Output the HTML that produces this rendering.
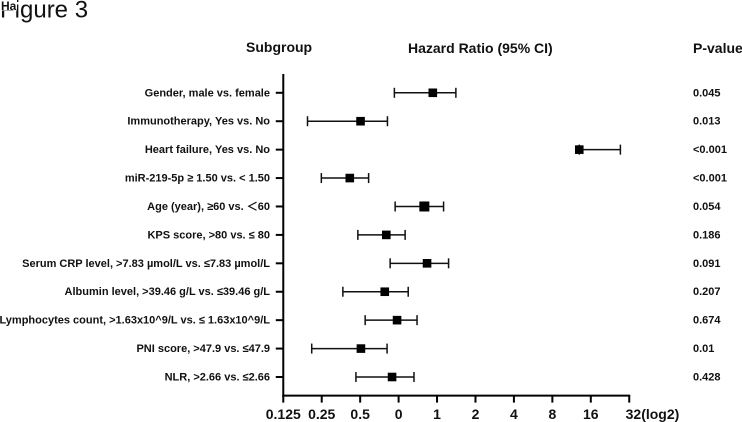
<!DOCTYPE html>
<html lang="en">
<head>
<meta charset="utf-8">
<title>Figure 3 forest plot</title>
<style>
  html, body { margin: 0; padding: 0; background: #fff; }
  #chart { display: block; width: 742px; height: 422px; font-family: "Liberation Sans", sans-serif; }
  #chart text { fill: #111; }
  .head { font-size: 14px; font-weight: bold; }
  .row-label { font-size: 11px; font-weight: bold; text-anchor: end; }
  .p-label { font-size: 11px; font-weight: bold; }
  .tick-label { font-size: 14px; font-weight: bold; text-anchor: middle; }
  .axis { stroke: #000; stroke-width: 2; fill: none; }
  .whisker { stroke: #111; stroke-width: 1.5; fill: none; }
</style>
</head>
<body>
<svg id="chart" xmlns="http://www.w3.org/2000/svg" width="742" height="422" viewBox="0 0 742 422">
  <rect x="0" y="0" width="742" height="422" fill="#fff"/>
  <text x="0" y="17.5" font-size="24">Figure 3</text>
  <rect x="0" y="0" width="17" height="10.5" fill="#fff"/>
  <text x="1" y="10" font-size="12" font-weight="bold">Ha</text>
  <text class="head" x="246" y="52">Subgroup</text>
  <text class="head" x="408" y="53">Hazard Ratio (95% CI)</text>
  <text class="head" x="693" y="53">P-value</text>
  <g id="y-axis-group"></g>
  <g id="x-axis-group"></g>
  <g id="rows-group"></g>
</svg>
<script>
// Values are in axis units: one unit per tick interval, with the tick labelled "0" at 0.
const categories = [
  "Gender, male vs. female",
  "Immunotherapy, Yes vs. No",
  "Heart failure, Yes vs. No",
  "miR-219-5p \u2265 1.50 vs. < 1.50",
  "Age (year), \u226560 vs. \uFF1C60",
  "KPS score, >80 vs. \u2264 80",
  "Serum CRP level, >7.83 \u00B5mol/L vs. \u22647.83 \u00B5mol/L",
  "Albumin level, >39.46 g/L vs. \u226439.46 g/L",
  "Lymphocytes count, >1.63x10^9/L vs. \u2264 1.63x10^9/L",
  "PNI score, >47.9 vs. \u226447.9",
  "NLR, >2.66 vs. \u22642.66"
];
const estimates = [0.89, -0.99, 4.70, -1.27, 0.67, -0.32, 0.74, -0.36, -0.04, -0.98, -0.17];
const lowerBounds = [-0.11, -2.37, 4.70, -2.01, -0.09, -1.06, -0.22, -1.45, -0.87, -2.26, -1.11];
const upperBounds = [1.49, -0.29, 5.77, -0.78, 1.17, 0.17, 1.30, 0.25, 0.48, -0.30, 0.40];
const pValues = ["0.045", "0.013", "<0.001", "<0.001", "0.054", "0.186", "0.091", "0.207", "0.674", "0.01", "0.428"];
const tickLabels = ["0.125", "0.25", "0.5", "0", "1", "2", "4", "8", "16", "32(log2)"];
const tickValues = [-3, -2, -1, 0, 1, 2, 3, 4, 5, 6];

const NS = "http://www.w3.org/2000/svg";
const xScale = function (v) { return 398.6 + v * 38.44; };
const yScale = function (i) { return 92.8 + i * 28.42; };
const axisLeft = xScale(tickValues[0]);
const axisRight = xScale(tickValues[tickValues.length - 1]);
const axisBottom = 395.6;
const axisTop = 74;

function make(tag, parent, attrs, text) {
  const el = document.createElementNS(NS, tag);
  for (const k in attrs) el.setAttribute(k, attrs[k]);
  if (text !== undefined) el.textContent = text;
  parent.appendChild(el);
  return el;
}

const yGroup = document.getElementById("y-axis-group");
const xGroup = document.getElementById("x-axis-group");
const rowsGroup = document.getElementById("rows-group");

const yLine = make("line", yGroup, { x1: axisLeft, x2: axisLeft, y1: axisTop, y2: axisBottom + 1, "class": "axis" });



const xLine = make("line", xGroup, { x1: axisLeft - 1, x2: axisRight + 1, y1: axisBottom, y2: axisBottom, "class": "axis" });



tickValues.forEach(function (v, i) {
  const x = xScale(v);
  const tick = make("line", xGroup, { x1: x, x2: x, y1: axisBottom, y2: axisBottom + 7, "class": "axis" });
  
  
  const isLast = i === tickValues.length - 1;
  const label = make("text", xGroup, { x: isLast ? x - 3.6 : x, y: 419, "class": "tick-label" }, tickLabels[i]);
  if (isLast) label.style.textAnchor = "start";
  
  
});

categories.forEach(function (name, i) {
  const y = yScale(i);
  const label = make("text", yGroup, { x: 270, y: y + 3.5, "class": "row-label" }, name);
  
  

  const tick = make("line", yGroup, { x1: axisLeft - 7.5, x2: axisLeft, y1: y, y2: y, "class": "axis" });
  
  

  const row = make("g", rowsGroup, {});
  
  

  const xLow = xScale(lowerBounds[i]);
  const xHigh = xScale(upperBounds[i]);
  const xEst = xScale(estimates[i]);

  const ci = make("line", row, { x1: xLow, x2: xHigh, y1: y, y2: y, "class": "whisker" });
  
  

  const capLow = make("line", row, { x1: xLow, x2: xLow, y1: y - 5, y2: y + 5, "class": "whisker" });
  
  

  const capHigh = make("line", row, { x1: xHigh, x2: xHigh, y1: y - 5, y2: y + 5, "class": "whisker" });
  
  

  const size = i === 4 ? 10 : 8.6;
  const mark = make("rect", row, { x: xEst - size / 2, y: y - size / 2, width: size, height: size, fill: "#000" });
  
  

  const p = make("text", rowsGroup, { x: 693, y: y + 3.5, "class": "p-label" }, pValues[i]);
  
  
});
</script>
</body>
</html>
